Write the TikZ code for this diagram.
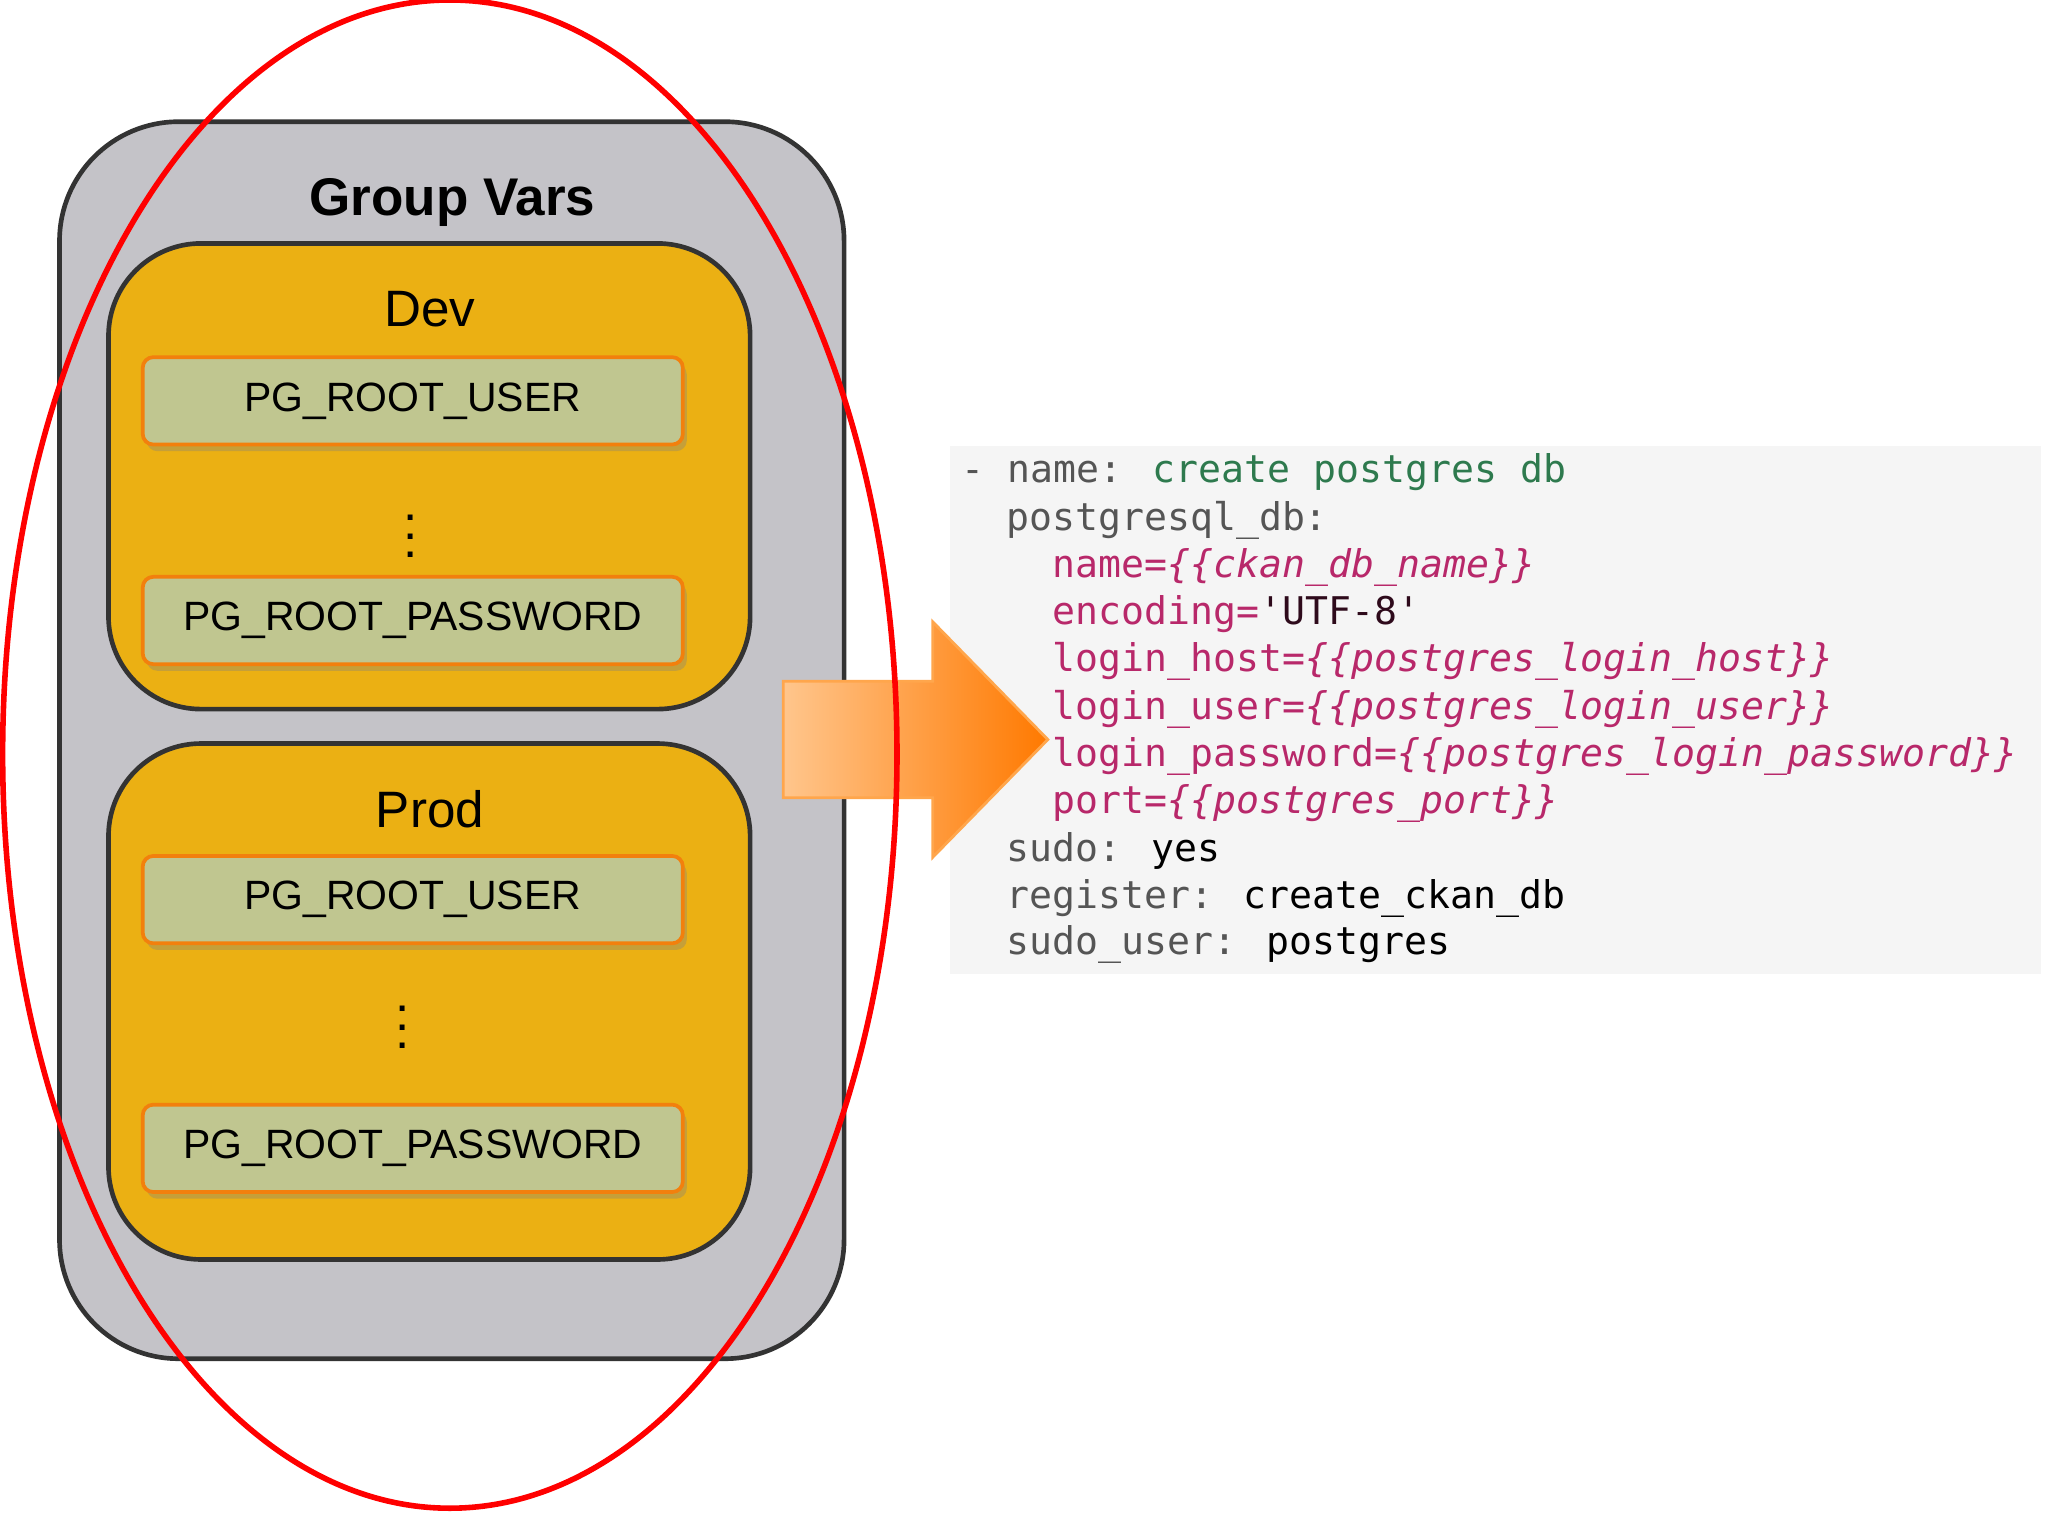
\documentclass[tikz,border=0pt]{standalone}
\usepackage{fontspec}
\setmainfont{Liberation Sans}
\newfontfamily\codefont{DejaVu Sans Mono}
\usetikzlibrary{shadows}
\definecolor{grp}{HTML}{C4C3C8}
\definecolor{env}{HTML}{EBB013}
\definecolor{var}{HTML}{C0C690}
\definecolor{keyc}{HTML}{555555}
\definecolor{strc}{HTML}{2E7A4E}
\definecolor{magc}{HTML}{B8286A}
\begin{document}
\begin{tikzpicture}[x=0.01cm,y=-0.01cm,
 envbox/.style={draw=black!80,line width=1pt,fill=env,rounded corners=0.7cm},
 varbox/.style={draw=orange!80!brown,line width=0.8pt,fill=var,rounded corners=0.08cm,minimum width=4.08cm,minimum height=0.66cm,drop shadow={shadow xshift=0.03cm,shadow yshift=-0.05cm,opacity=0.35},font=\fontsize{8.8}{10}\selectfont},
 title/.style={font=\fontsize{11}{13}\selectfont},
 code/.style={anchor=west,inner sep=0pt,font=\codefont\fontsize{8.2}{10}\selectfont},
 k/.style={text=keyc}]
\useasboundingbox (0,0) rectangle (1548,1161);
\fill[white] (0,0) rectangle (1548,1161);
\draw[black!80,line width=1pt,fill=grp,rounded corners=0.9cm] (45,92) rectangle (638,1027);
\node[title,font=\bfseries\fontsize{11.4}{13}\selectfont] (gv) at (342,153) {Group Vars};
\draw[envbox] (82,184) rectangle (567,536);
\node[title] (dev) at (325,234) {Dev};
\node[varbox] (d1) at (312,303) {PG\_ROOT\_USER};
\node[font=\fontsize{11}{13}\selectfont,inner sep=0pt] (dd) at (310,395) {$\vdots$};
\node[varbox] (d2) at (312,469) {PG\_ROOT\_PASSWORD};
\draw[envbox] (82,562) rectangle (567,952);
\node[title] (prod) at (325,612) {Prod};
\node[varbox] (p1) at (312,680) {PG\_ROOT\_USER};
\node[font=\fontsize{11}{13}\selectfont,inner sep=0pt] (pd) at (304,766) {$\vdots$};
\node[varbox] (p2) at (312,868) {PG\_ROOT\_PASSWORD};
% code
\fill[black!4] (718,337) rectangle (1543,736);
\node[code] (c1) at (726,357) {\textcolor{keyc}{- name:} \textcolor{strc}{create postgres db}};
\node[code,k] (c2) at (760,393) {postgresql\_db:};
\node[code,text=magc] (c3) at (795,429) {name=\textit{\{\{ckan\_db\_name\}\}}};
\node[code,text=magc] (c4) at (795,464) {encoding=\textcolor{black!75!magc}{'UTF-8'}};
\node[code,text=magc] (c5) at (795,500) {login\_host=\textit{\{\{postgres\_login\_host\}\}}};
\node[code,text=magc] (c6) at (795,536) {login\_user=\textit{\{\{postgres\_login\_user\}\}}};
\node[code,text=magc] (c7) at (795,572) {login\_password=\textit{\{\{postgres\_login\_password\}\}}};
\node[code,text=magc] (c8) at (795,607) {port=\textit{\{\{postgres\_port\}\}}};
\node[code] (c9) at (760,643) {\textcolor{keyc}{sudo:} yes};
\node[code] (c10) at (760,679) {\textcolor{keyc}{register:} create\_ckan\_db};
\node[code] (c11) at (760,714) {\textcolor{keyc}{sudo\_user:} postgres};
% arrow
\shade[left color=orange!45,right color=orange!95!red,draw=orange!70!white,line width=0.6pt]
 (592,515) -- (705,515) -- (705,470) -- (792,559) -- (705,648) -- (705,603) -- (592,603) -- cycle;
% red ellipse
\draw[red,line width=1.2pt] (340,570) ellipse [x radius=338,y radius=570];
\end{tikzpicture}
\end{document}
